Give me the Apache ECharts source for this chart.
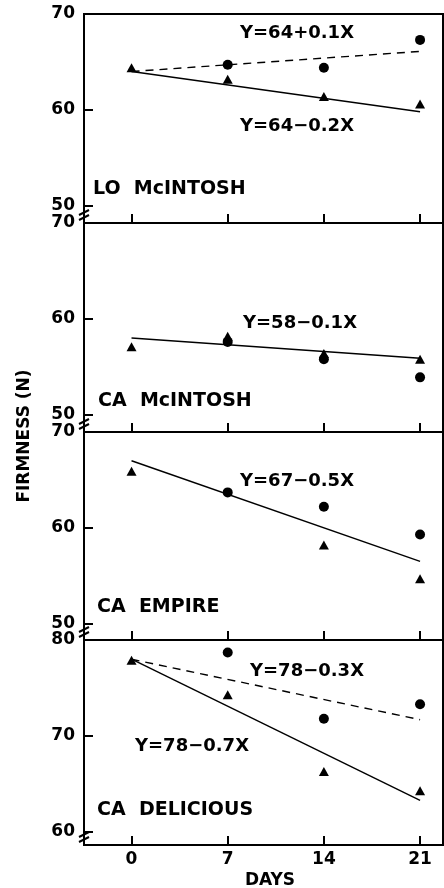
<!DOCTYPE html>
<html><head><meta charset="utf-8">
<script src="https://cdn.jsdelivr.net/npm/echarts@6/dist/echarts.min.js"></script>
<style>html,body{margin:0;padding:0;background:#fff}#c{width:444px;height:888px}</style>
</head><body><div id="c"></div>
<script>
// ---- data ----
const days = [0, 7, 14, 21];
const panelNames = ['LO  McINTOSH', 'CA  McINTOSH', 'CA  EMPIRE', 'CA  DELICIOUS'];
const yTickValues = [[50, 60, 70], [50, 60, 70], [50, 60, 70], [60, 70, 80]];
const yMin = [48.2, 48.2, 48.3, 58.65];
const yMax = [70, 70, 70, 80];
const triangles = [
  [64.4, 63.2, 61.4, 60.6],
  [57.1, 58.2, 56.4, 55.8],
  [65.9, null, 58.2, 54.7],
  [77.9, 74.3, 66.3, 64.3]
];
const circles = [
  [null, 64.7, 64.4, 67.3],
  [null, 57.6, 55.8, 53.9],
  [null, 63.7, 62.2, 59.3],
  [null, 78.7, 71.8, 73.3]
];
const fitIntercepts = [[64, 64], [58], [67], [78, 78]];
const fitSlopes = [[0.1, -0.2], [-0.1], [-0.5], [-0.3, -0.7]];
const fitDashed = [[true, false], [false], [false], [true, false]];
const fitLabels = [['Y=64+0.1X', 'Y=64\u22120.2X'], ['Y=58\u22120.1X'], ['Y=67\u22120.5X'], ['Y=78\u22120.3X', 'Y=78\u22120.7X']];

// ---- layout ----
const gridTops = [14, 223, 432, 640];
const gridHeights = [209, 209, 208, 205];
const gridLeft = 84;
const eqPos = [[[240, 33.5], [240, 126]], [[243, 323.7]], [[240, 481.7]], [[250, 671.7], [135, 746]]];
const namePos = [[93, 189.5], [98, 401], [97, 606.7], [97, 810]];
const FONT = '"DejaVu Sans", sans-serif';

const chart = echarts.init(document.getElementById('c'), null, { renderer: 'canvas' });
const option = { animation: false, backgroundColor: '#fff', grid: [], xAxis: [], yAxis: [], series: [], graphic: [] };
const black = '#000';

for (let i = 0; i < 4; i++) {
  option.grid.push({ left: gridLeft, right: 1, top: gridTops[i], height: gridHeights[i], show: true,
    borderColor: black, borderWidth: 2, backgroundColor: 'transparent', containLabel: false, outerBoundsMode: 'none' });
  option.xAxis.push({
    type: 'value', gridIndex: i, min: -3.46, max: 22.67,
    axisLine: { show: true, onZero: false, lineStyle: { color: black, width: 2 } },
    axisTick: { show: true, inside: true, length: 9, customValues: days, lineStyle: { color: black, width: 2 } },
    axisLabel: { show: i === 3, customValues: days, margin: 6, color: black, fontSize: 17, fontWeight: 'bold', fontFamily: FONT },
    splitLine: { show: false },
    name: i === 3 ? 'DAYS' : '', nameLocation: 'middle', nameGap: 27,
    nameTextStyle: { color: black, fontSize: 17, fontWeight: 'bold', fontFamily: FONT, padding: [0, 0, 0, 13] }
  });
  option.yAxis.push({
    type: 'value', gridIndex: i, min: yMin[i], max: yMax[i],
    axisLine: { show: true, onZero: false, lineStyle: { color: black, width: 2 } },
    axisTick: { show: true, inside: true, length: 9, customValues: yTickValues[i], lineStyle: { color: black, width: 2 } },
    axisLabel: { customValues: yTickValues[i], margin: 9, color: black, fontSize: 17, fontWeight: 'bold', fontFamily: FONT },
    splitLine: { show: false }
  });
  fitIntercepts[i].forEach((a, k) => {
    const b = fitSlopes[i][k];
    option.series.push({
      type: 'line', xAxisIndex: i, yAxisIndex: i, symbol: 'none', silent: true,
      data: [[days[0], a + b * days[0]], [days[3], a + b * days[3]]],
      lineStyle: { color: black, width: 1.4, opacity: 1, type: fitDashed[i][k] ? [8, 6] : 'solid' }, z: 2
    });
    option.graphic.push({ type: 'text', x: eqPos[i][k][0], y: eqPos[i][k][1],
      style: { text: fitLabels[i][k], font: 'bold 18px ' + FONT, fill: black, textAlign: 'left', textVerticalAlign: 'middle' } });
  });
  option.series.push({
    type: 'scatter', xAxisIndex: i, yAxisIndex: i, symbol: 'triangle', symbolSize: [10, 9],
    itemStyle: { color: black, opacity: 1 }, z: 3,
    data: days.map((d, j) => [d, triangles[i][j]]).filter(p => p[1] != null)
  });
  option.series.push({
    type: 'scatter', xAxisIndex: i, yAxisIndex: i, symbol: 'circle', symbolSize: 10,
    itemStyle: { color: black, opacity: 1 }, z: 3,
    data: days.map((d, j) => [d, circles[i][j]]).filter(p => p[1] != null)
  });
  option.graphic.push({ type: 'text', x: namePos[i][0], y: namePos[i][1],
    style: { text: panelNames[i], font: 'bold 19px ' + FONT, fill: black, textAlign: 'left', textVerticalAlign: 'middle' } });
  const bot = gridTops[i] + gridHeights[i];
  option.graphic.push({ type: 'line', shape: { x1: 79, y1: bot - 8, x2: 89, y2: bot - 13 }, style: { stroke: black, lineWidth: 2 } });
  option.graphic.push({ type: 'line', shape: { x1: 79, y1: bot - 3, x2: 89, y2: bot - 8 }, style: { stroke: black, lineWidth: 2 } });
}
option.graphic.push({ type: 'text', x: 25, y: 436, rotation: Math.PI / 2,
  style: { text: 'FIRMNESS (N)', font: 'bold 17px ' + FONT, fill: black, textAlign: 'center', textVerticalAlign: 'middle' } });

chart.setOption(option);
</script>
</body></html>
